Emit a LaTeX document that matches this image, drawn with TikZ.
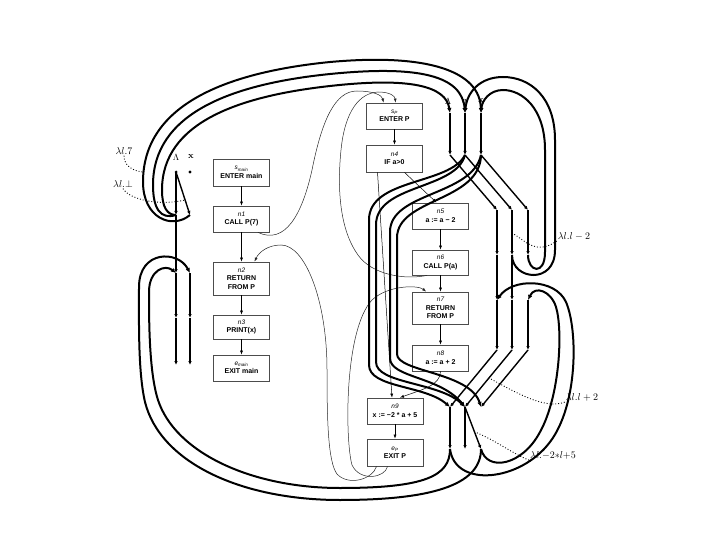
\documentclass[tikz,border=0pt]{standalone}
\usepackage{fontspec}
\usetikzlibrary{arrows.meta,calc}
\newfontfamily\boxfont{Liberation Sans}
\newcommand{\boxlbl}[1]{{\fontsize{6.5}{7}\selectfont\mdseries\itshape #1}}
\begin{document}
\begin{tikzpicture}[x=1pt,y=-1pt,
  box/.style={draw=black!70, line width=0.8pt, minimum width=56pt, inner sep=1pt, align=center,
    font=\boxfont\bfseries\fontsize{7}{8.5}\selectfont},
  flow/.style={line width=0.5pt, -{Latex[length=4pt,width=3pt]}},
  thinc/.style={line width=0.5pt, black!85},
  thinca/.style={thinc, -{Latex[length=4pt,width=3pt]}},
  thk/.style={line width=2pt, -{Latex[length=5pt,width=4.5pt]}},
  colm/.style={line width=1.4pt, -{Latex[length=4pt,width=3.5pt]}},
  ptr/.style={line width=0.9pt, dotted},
  lab/.style={inner sep=1pt, font=\fontsize{10}{11}\selectfont},
  clab/.style={inner sep=1pt, font=\fontsize{9}{10}\selectfont},
]
\useasboundingbox (0,0) rectangle (720,540);

% ---------- boxes ----------
\node[box, minimum height=27pt] (smain) at (241.5,172.5) {\boxlbl{s\textsubscript{main}}\\ENTER main};
\node[box, minimum height=26pt] (n1) at (241.5,219) {\boxlbl{n1}\\CALL P(7)};
\node[box, minimum height=33pt] (n2) at (241.5,278.5) {\boxlbl{n2}\\RETURN\\FROM P};
\node[box, minimum height=24pt] (n3) at (241.5,327) {\boxlbl{n3}\\PRINT(x)};
\node[box, minimum height=26pt] (emain) at (241.5,368) {\boxlbl{e\textsubscript{main}}\\EXIT main};

\node[box, minimum height=26pt] (sP) at (394.5,116) {\boxlbl{s\textsubscript{P}}\\ENTER P};
\node[box, minimum height=27pt] (n4) at (394.5,158.5) {\boxlbl{n4}\\IF a>0};
\node[box, minimum height=26pt] (n5) at (440.5,216) {\boxlbl{n5}\\a := a − 2};
\node[box, minimum height=25pt] (n6) at (440.5,262.5) {\boxlbl{n6}\\CALL P(a)};
\node[box, minimum height=32pt] (n7) at (440.5,308) {\boxlbl{n7}\\RETURN\\FROM P};
\node[box, minimum height=26pt] (n8) at (440.5,358) {\boxlbl{n8}\\a := a + 2};
\node[box, minimum height=26pt] (n9) at (395,411) {\boxlbl{n9}\\x := −2 * a + 5};
\node[box, minimum height=27pt] (eP) at (395,452.5) {\boxlbl{e\textsubscript{P}}\\EXIT P};

% ---------- flow edges ----------
\draw[flow] (smain) -- (n1);
\draw[flow] (n1) -- (n2);
\draw[flow] (n2) -- (n3);
\draw[flow] (n3) -- (emain);
\draw[flow] (sP) -- (n4);
\draw[flow] (n5) -- (n6);
\draw[flow] (n6) -- (n7);
\draw[flow] (n7) -- (n8);
\draw[flow] (n9) -- (eP);
\draw[flow] ($(n4.south)+(10,0)$) -- ($(n5.north)+(-4,0)$);
\draw[flow] ($(n4.south)+(-17,0)$) -- ($(n9.north)+(-3,0)$);
\draw[flow] (n8.south) .. controls +(0,14) and +(22,-8) .. ($(n9.north)+(5,0)$);

% ---------- thin call / return edges ----------
\draw[thinca] ($(n1.south east)+(-12,0)$) .. controls (285,245) and (302,215) .. (312,170)
   .. controls (322,120) and (335,91) .. (357,91) .. controls (373,91) and (382,95) .. ($(sP.north)+(-11,0)$);
\draw[thinca] ($(n6.south west)+(15,0)$) .. controls (405,280) and (372,275) .. (358,255)
   .. controls (340,230) and (337,190) .. (341,150) .. controls (345,110) and (360,93) .. (378,92)
   .. controls (390,92) and (395,96) .. ($(sP.north)+(1,0)$);
\draw[thinca] ($(eP.south west)+(10,0)$) .. controls (372,480) and (348,486) .. (337,474)
   .. controls (328,462) and (327,420) .. (327,370) .. controls (327,300) and (305,245) .. (281,245)
   .. controls (268,245) and (259,252) .. ($(n2.north)+(13,0)$);
\draw[thinca] ($(eP.south west)+(21,0)$) .. controls (385,478) and (360,482) .. (352,465)
   .. controls (345,440) and (344,330) .. (372,300) .. controls (388,285) and (418,285) .. ($(n7.north west)+(14,0)$);

% ---------- exploded nodes: main ----------
\coordinate (mL0) at (176,172); \coordinate (mX0) at (190,172);
\coordinate (mL1) at (176,215); \coordinate (mX1) at (190,215);
\coordinate (mL2) at (176,273); \coordinate (mX2) at (190,273);
\coordinate (mL3) at (176,318); \coordinate (mX3) at (190,318);
\coordinate (mL4) at (176,365); \coordinate (mX4) at (190,365);
\fill (mX0) circle (1.7);
\fill (mL0) circle (1.5);
\draw[colm] (mL0) -- (mL1);
\draw[colm] (mL0) -- (mX1);
\draw[colm] (mL1) -- (mL2);
\draw[colm] (mL2) -- (mL3);
\draw[colm] (mX2) -- (mX3);
\draw[colm] (mL3) -- (mL4);
\draw[colm] (mX3) -- (mX4);
\node[clab] (mlam) at (176,157) {$\Lambda$};
\node[clab] (mxl) at (191,157) {\textbf{x}};

% ---------- exploded nodes: P ----------
\foreach \c/\xa/\xb in {L/450/497, A/465/512, X/481/528}{
  \coordinate (p\c0) at (\xa,113);
  \coordinate (p\c1) at (\xa,155);
  \coordinate (p\c2) at (\xb,210);
  \coordinate (p\c3) at (\xb,255);
  \coordinate (p\c4) at (\xb,300);
  \coordinate (p\c5) at (\xb,350);
  \coordinate (p\c6) at (\xa,407);
  \coordinate (p\c7) at (\xa,449);
}
\foreach \c in {L,A,X}{
  \draw[colm] (p\c0) -- (p\c1);
  \draw[colm] (p\c1) -- (p\c2);
  \draw[colm] (p\c2) -- (p\c3);
  \draw[colm] (p\c4) -- (p\c5);
  \draw[colm] (p\c5) -- (p\c6);
}
\foreach \c in {L,A}{
  \draw[colm] (p\c3) -- (p\c4);
  \draw[colm] (p\c6) -- (p\c7);
}
\draw[colm] (pA6) -- (pX7);
\node[clab] (plam) at (448,101) {$\Lambda$};
\node[clab] (pal) at (465,101) {\textbf{a}};
\node[clab] (pxl) at (481,101) {\textbf{x}};

% ---------- call n1 -> sP (top arcs) ----------
\draw[thk] (mL1) .. controls (167,215) and (162,207) .. (162,190) .. controls (162,122) and (240,96) .. (330,86)
   .. controls (410,77) and (446,86) .. (pL0);
\draw[thk] (mL1) .. controls (160,220) and (153,208) .. (153,185) .. controls (153,113) and (232,84) .. (330,74)
   .. controls (420,65) and (462,76) .. (pA0);
\draw[thk] (mX1) .. controls (172,230) and (143,218) .. (143,182) .. controls (143,103) and (230,72) .. (330,62)
   .. controls (430,53) and (480,72) .. (pX0);

% ---------- call n6 -> sP (right U's) ----------
\draw[thk] (pX3) .. controls (528,272) and (545,276) .. (545,252) -- (545,150)
   .. controls (545,108) and (522,90) .. (503,90) .. controls (490,90) and (482,100) .. (pX0);
\draw[thk] (pA3) .. controls (512,280) and (555,285) .. (555,250) -- (555,140)
   .. controls (555,97) and (530,77) .. (503,77) .. controls (480,77) and (467,92) .. (pA0);

% ---------- n4 -> n9 (bypass) ----------
\draw[thk] (pA1) .. controls (450,185) and (369,178) .. (369,220) -- (369,365)
   .. controls (369,388) and (425,385) .. (pL6);
\draw[thk] (pA1) .. controls (456,190) and (376,184) .. (376,225) -- (376,362)
   .. controls (376,384) and (440,382) .. (pA6);
\draw[thk] (pX1) .. controls (472,196) and (390,192) .. (390,232) -- (390,358)
   .. controls (390,378) and (440,376) .. (pA6);
\draw[thk] (pX1) .. controls (480,202) and (397,198) .. (397,238) -- (397,354)
   .. controls (397,372) and (470,372) .. (pX6);

% ---------- return eP -> n2 (bottom loops) ----------
\draw[thk] (pL7) .. controls (450,476) and (425,488) .. (340,488) .. controls (250,488) and (175,452) .. (158,400)
   .. controls (149,372) and (149,320) .. (149,292) .. controls (149,270) and (165,264) .. (mL2);
\draw[thk] (pX7) .. controls (481,482) and (440,500) .. (340,500) .. controls (240,500) and (160,462) .. (145,402)
   .. controls (138,372) and (139,322) .. (139,287) .. controls (139,250) and (178,250) .. (mX2);

% ---------- return eP -> n7 (right) ----------
\draw[thk] (pL7) .. controls (455,488) and (520,482) .. (550,442) .. controls (578,405) and (578,330) .. (566,302)
   .. controls (555,278) and (512,278) .. (pL4);
\draw[thk] (pX7) .. controls (487,472) and (522,466) .. (540,432) .. controls (560,396) and (563,330) .. (556,307)
   .. controls (551,291) and (535,285) .. (pX4);

% ---------- edge-function labels ----------
\coordinate (t7) at (143,172);
\coordinate (tbot) at (185,200);
\coordinate (tm2) at (512,233);
\coordinate (tp2) at (489,378);
\coordinate (t5) at (475,432);
\node[lab] (l7) at (124,151) {$\lambda l.7$};
\draw[ptr] (l7.south) .. controls (124,166) and (133,171) .. (t7);
\node[lab] (lbot) at (123,184) {$\lambda l.\bot$};
\draw[ptr] (lbot.south) .. controls (130,200) and (160,206) .. (tbot);
\node[lab] (lm2) at (574,236) {$\lambda l.l-2$};
\draw[ptr] (lm2.south west) .. controls (535,256) and (525,240) .. (tm2);
\node[lab] (lp2) at (582,397) {$\lambda l.l+2$};
\draw[ptr] (lp2.south west) .. controls (545,410) and (515,392) .. (tp2);
\node[lab] (l5) at (553,455) {$\lambda l.{-2}{*}l{+}5$};
\draw[ptr] (l5.south west) .. controls (515,455) and (495,440) .. (t5);
\end{tikzpicture}
\end{document}
